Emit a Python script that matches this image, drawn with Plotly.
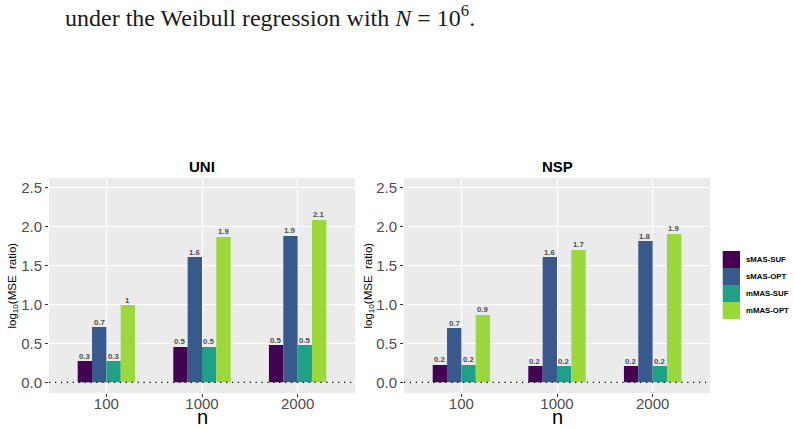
import plotly.graph_objects as go

# ---------------- data ----------------
n_labels = ["100", "1000", "2000"]
methods = ["sMAS-SUF", "sMAS-OPT", "mMAS-SUF", "mMAS-OPT"]
colors = ["#440154", "#38598C", "#1FA187", "#9AD83C"]

uni_values = {
    "sMAS-SUF": [0.273, 0.453, 0.478],
    "sMAS-OPT": [0.709, 1.606, 1.876],
    "mMAS-SUF": [0.273, 0.453, 0.478],
    "mMAS-OPT": [0.991, 1.863, 2.081],
}
nsp_values = {
    "sMAS-SUF": [0.222, 0.209, 0.209],
    "sMAS-OPT": [0.696, 1.606, 1.811],
    "mMAS-SUF": [0.222, 0.209, 0.209],
    "mMAS-OPT": [0.863, 1.696, 1.902],
}
panels = [("UNI", uni_values), ("NSP", nsp_values)]
y_ticks = [0.0, 0.5, 1.0, 1.5, 2.0, 2.5]

W, H = 794, 429
FONT = "Liberation Sans"
BARGAP = 0.4


def fmt(v):
    return f"{round(v, 1):g}"


def px_x(p):
    return p / W


def px_y(p):
    return 1 - p / H


fig = go.Figure()

x_domains = [[px_x(49), px_x(355)], [px_x(404), px_x(710)]]
y_domain = [px_y(393), px_y(178)]

annotations = []
shapes = []
bar_w = (1 - BARGAP) / len(methods)

for i, (pname, vals) in enumerate(panels):
    xa = "x" if i == 0 else "x2"
    ya = "y" if i == 0 else "y2"
    for j, (m, c) in enumerate(zip(methods, colors)):
        fig.add_trace(go.Bar(
            x=n_labels, y=vals[m], name=m, marker_color=c, marker_line_width=0,
            xaxis=xa, yaxis=ya, showlegend=False,
        ))
        # value labels on top of bars
        for k, v in enumerate(vals[m]):
            annotations.append(dict(
                text=f"<b>{fmt(v)}</b>", x=k + (j - (len(methods) - 1) / 2) * bar_w, y=v,
                xref=xa, yref=ya, showarrow=False, xanchor="center", yanchor="bottom",
                yshift=-1.5, font=dict(size=7.8, color="#4D4D4D", family=FONT),
            ))

axis_common_x = dict(
    type="category", range=[-0.6, 2.6], showgrid=True, gridcolor="white", gridwidth=1.1,
    ticks="outside", ticklen=3, tickcolor="#333333", tickwidth=1,
    tickfont=dict(size=15, color="#4D4D4D", family=FONT), zeroline=False, showline=False,
    ticklabelstandoff=-6,
)
axis_common_y = dict(
    range=[-0.137, 2.619], tickvals=y_ticks, ticktext=[f"{t:.1f}" for t in y_ticks],
    showgrid=True, gridcolor="white", gridwidth=1.1, zeroline=False,
    ticks="outside", ticklen=3, tickcolor="#333333", tickwidth=1,
    tickfont=dict(size=15, color="#4D4D4D", family=FONT), showline=False,
    domain=y_domain,
)

fig.update_layout(
    width=W, height=H, margin=dict(l=0, r=0, t=0, b=0),
    paper_bgcolor="white", plot_bgcolor="#EBEBEB",
    barmode="group", bargap=BARGAP, bargroupgap=0,
    showlegend=False,
    font=dict(family=FONT),
    xaxis=dict(axis_common_x, domain=x_domains[0], anchor="y"),
    yaxis=dict(axis_common_y, anchor="x"),
    xaxis2=dict(axis_common_x, domain=x_domains[1], anchor="y2"),
    yaxis2=dict(axis_common_y, anchor="x2"),
)

for i, (pname, vals) in enumerate(panels):
    xa = "x" if i == 0 else "x2"
    ya = "y" if i == 0 else "y2"
    xc = (x_domains[i][0] + x_domains[i][1]) / 2
    # panel title
    annotations.append(dict(text=f"<b>{pname}</b>", x=xc, y=px_y(166), xref="paper", yref="paper",
                            showarrow=False, font=dict(size=15, color="black", family=FONT),
                            xanchor="center", yanchor="middle"))
    # x title
    annotations.append(dict(text="n", x=xc, y=px_y(417), xref="paper", yref="paper",
                            showarrow=False, font=dict(size=20, color="black", family=FONT),
                            xanchor="center", yanchor="middle"))
    # y title
    ytx = 12 if i == 0 else 368
    annotations.append(dict(text="log<sub>10</sub>(MSE  ratio)", x=px_x(ytx), y=px_y(285.5),
                            xref="paper", yref="paper", showarrow=False, textangle=-90,
                            font=dict(size=11.5, color="black", family=FONT),
                            xanchor="center", yanchor="middle"))
    # dotted zero line
    shapes.append(dict(type="line", xref=f"{xa} domain", yref=ya, x0=0, x1=1, y0=0, y1=0,
                       line=dict(color="black", width=1.3, dash="1.3px,4.6px"), layer="above"))

# legend (manual)
key_top = 251
key_h = 17
for j, (m, c) in enumerate(zip(methods, colors)):
    y0 = key_top + j * key_h
    shapes.append(dict(type="rect", xref="paper", yref="paper",
                       x0=px_x(722.7), x1=px_x(740), y0=px_y(y0 + key_h), y1=px_y(y0),
                       fillcolor=c, line=dict(width=0)))
    annotations.append(dict(text=f"<b>{m}</b>", x=px_x(744), y=px_y(y0 + key_h / 2),
                            xref="paper", yref="paper", showarrow=False,
                            font=dict(size=7.8, color="black", family=FONT),
                            xanchor="left", yanchor="middle"))

# caption line above the chart
annotations.append(dict(text="under the Weibull regression with <i>N</i> = 10<sup>6</sup>.",
                        x=px_x(63), y=px_y(16), xref="paper", yref="paper", showarrow=False,
                        font=dict(size=24, color="#1a1a1a", family="Liberation Serif"),
                        xanchor="left", yanchor="middle"))

fig.update_layout(annotations=annotations, shapes=shapes)
fig.write_html("out.html")
